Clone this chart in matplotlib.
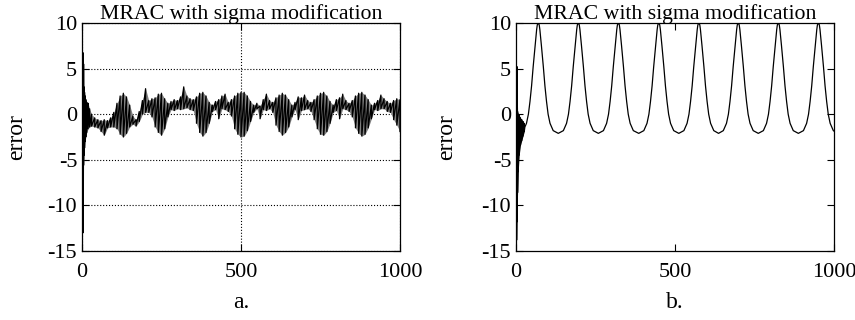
import numpy as np
import matplotlib
matplotlib.use("Agg")
from matplotlib import pyplot as plt

plt.rcParams['font.family'] = ['Liberation Serif', 'DejaVu Serif']
plt.rcParams['axes.unicode_minus'] = False
plt.rcParams['font.size'] = 16

# ---- panel a: error with sigma modification (peak / trough envelope of the fast oscillation)
t_a = [3, 4, 5, 6, 8, 10, 12, 15, 19, 24] + list(range(30, 1001, 10))
upper_a = [6.7, 6.7, 5.5, 3.0, 2.4, 2.0, 1.6, 1.3, 1.2, 0.6,
           0.0, -0.4, -0.6, -0.7, -0.6, -0.7, -0.4, 0.2, 1.2, 2.0,
           2.3, 1.9, 1.0, -0.2, -0.6, 0.3, 1.5, 2.8, 1.5, 1.7,
           1.8, 2.2, 2.3, 1.7, 1.2, 1.4, 1.6, 1.5, 1.9, 3.0,
           2.0, 1.7, 1.6, 1.9, 2.3, 2.4, 2.0, 1.3, 1.0, 1.4,
           1.6, 2.0, 2.2, 1.3, 1.6, 2.0, 2.3, 2.4, 2.4, 2.0,
           1.4, 1.0, 1.2, 0.9, 1.6, 2.2, 1.5, 1.3, 1.8, 2.1,
           2.3, 2.1, 1.6, 1.0, 1.3, 1.9, 1.8, 2.1, 1.5, 1.3,
           1.6, 2.0, 2.3, 2.4, 2.0, 1.4, 1.0, 1.6, 1.8, 2.2,
           1.5, 1.2, 1.5, 2.0, 2.3, 2.4, 2.1, 1.6, 1.0, 1.2,
           1.5, 2.1, 1.7, 1.4, 1.2, 1.5, 1.7, 1.6]
lower_a = [-13.0, -12.0, -5.6, -4.5, -3.7, -3.0, -2.5, -2.0, -1.6, -1.4,
           -1.3, -1.4, -1.5, -1.9, -2.3, -1.5, -1.4, -1.4, -1.6, -2.2,
           -2.5, -2.1, -1.4, -1.1, -1.3, -0.8, 0.0, 0.2, 0.2, -0.3,
           -1.4, -2.0, -2.3, -1.6, -0.3, 0.5, 0.4, 0.6, 0.5, 0.6,
           0.7, 0.5, 0.4, -1.0, -2.0, -2.4, -2.0, -1.0, 0.3, 0.5,
           -0.5, 0.6, 0.5, 0.3, -0.2, -1.6, -2.2, -2.5, -2.4, -1.8,
           -0.8, 0.2, 0.6, -0.5, 0.5, 0.4, 0.6, 0.2, -1.2, -1.9,
           -2.3, -2.0, -1.4, -0.3, 0.5, -0.6, 0.4, 0.5, 0.6, 0.3,
           -0.6, -1.6, -2.2, -2.3, -1.9, -1.0, 0.2, 0.4, -0.5, 0.6,
           0.5, 0.3, -0.3, -1.5, -2.1, -2.4, -2.2, -1.5, -0.5, 0.5,
           0.4, 0.6, 0.6, 0.3, 0.2, -0.6, -1.2, -1.9]

# ---- panel b: start-up transient envelope, then the slow periodic error
t_b0 = [2, 3, 5, 7, 10, 14, 18, 22, 26]
upper_b0 = [5.2, 5.2, 0.3, 0.0, -0.1, -0.4, -0.6, -0.8, -1.0]
lower_b0 = [-13.8, -11.8, -8.6, -6.3, -4.5, -3.4, -2.9, -2.4, -1.9]

t_b = [28, 33, 39, 44, 49, 54, 60, 65, 67, 70, 73, 75, 80, 86, 91, 96, 101, 107, 117, 133,
       149, 159, 165, 170, 175, 180, 186, 191, 193, 196, 199, 201, 206, 212, 217, 222, 227, 233, 243, 259,
       275, 285, 291, 296, 301, 306, 312, 317, 319, 322, 325, 327, 332, 338, 343, 348, 353, 359, 369, 386,
       402, 412, 418, 423, 428, 433, 439, 444, 446, 449, 452, 454, 459, 465, 470, 475, 480, 486, 496, 512,
       528, 538, 544, 549, 554, 559, 565, 570, 572, 575, 578, 580, 585, 591, 596, 601, 606, 612, 622, 637,
       652, 662, 668, 673, 678, 683, 689, 694, 696, 699, 702, 704, 709, 715, 720, 725, 730, 736, 746, 762,
       778, 788, 794, 799, 804, 809, 815, 820, 822, 825, 828, 830, 835, 841, 846, 851, 856, 862, 872, 888,
       904, 914, 920, 925, 930, 935, 941, 946, 948, 951, 954, 956, 961, 967, 972, 977, 982, 988, 998, 1000]
e_b = [-1.4, -1.0, 0.0, 1.4, 3.1, 5.2, 7.5, 9.3, 9.8, 10, 9.8, 9.3, 7.5, 5.2, 3.1, 1.4, 0.0, -1.0, -1.8, -2.1,
       -1.8, -1.0, 0.0, 1.4, 3.1, 5.2, 7.5, 9.3, 9.8, 10, 9.8, 9.3, 7.5, 5.2, 3.1, 1.4, 0.0, -1.0, -1.8, -2.1,
       -1.8, -1.0, 0.0, 1.4, 3.1, 5.2, 7.5, 9.3, 9.8, 10, 9.8, 9.3, 7.5, 5.2, 3.1, 1.4, 0.0, -1.0, -1.8, -2.1,
       -1.8, -1.0, 0.0, 1.4, 3.1, 5.2, 7.5, 9.3, 9.8, 10, 9.8, 9.3, 7.5, 5.2, 3.1, 1.4, 0.0, -1.0, -1.8, -2.1,
       -1.8, -1.0, 0.0, 1.4, 3.1, 5.2, 7.5, 9.3, 9.8, 10, 9.8, 9.3, 7.5, 5.2, 3.1, 1.4, 0.0, -1.0, -1.8, -2.1,
       -1.8, -1.0, 0.0, 1.4, 3.1, 5.2, 7.5, 9.3, 9.8, 10, 9.8, 9.3, 7.5, 5.2, 3.1, 1.4, 0.0, -1.0, -1.8, -2.1,
       -1.8, -1.0, 0.0, 1.4, 3.1, 5.2, 7.5, 9.3, 9.8, 10, 9.8, 9.3, 7.5, 5.2, 3.1, 1.4, 0.0, -1.0, -1.8, -2.1,
       -1.8, -1.0, 0.0, 1.4, 3.1, 5.2, 7.5, 9.3, 9.8, 10, 9.8, 9.3, 7.5, 5.2, 3.1, 1.4, 0.0, -1.0, -1.8, -1.85]

x_ticks = [0, 500, 1000]
y_ticks = [-15, -10, -5, 0, 5, 10]
title = "MRAC with sigma modification"


def zigzag(t, hi, lo):
    # one stroke per sample: peak then trough
    return np.repeat(t, 2), np.column_stack([hi, lo]).ravel()


fig = plt.figure(figsize=(8.55, 3.2), dpi=100)
ax1 = fig.add_axes([0.0959, 0.2156, 0.3719, 0.7125])
ax2 = fig.add_axes([0.6035, 0.2156, 0.3719, 0.7125])

# fast oscillation: grey band between the envelopes plus the strokes on top
ax1.fill_between(t_a, lower_a, upper_a, color='0.5', lw=0, zorder=2)
xa, ya = zigzag(t_a, upper_a, lower_a)
ax1.plot(xa, ya, color='black', lw=0.9, zorder=3)

xb0, yb0 = zigzag(t_b0, upper_b0, lower_b0)
ax2.fill_between(t_b0, lower_b0, upper_b0, color='black', lw=0)
ax2.plot(np.concatenate([xb0, t_b]), np.concatenate([yb0, e_b]), color='black', lw=0.9)

for ax, lab, lx in [(ax1, "a.", -0.173), (ax2, "b.", -0.186)]:
    ax.set_xlim(0, 1000)
    ax.set_ylim(-15, 10)
    ax.set_xticks(x_ticks)
    ax.set_yticks(y_ticks)
    ax.tick_params(direction='in', top=True, right=True, length=5, width=0.8,
                   labelsize=16)
    ax.tick_params(axis='x', pad=8.5)
    ax.tick_params(axis='y', pad=3.5)
    ax.set_title(title, fontsize=15.7, pad=3)
    ax.set_ylabel("error", fontsize=17)
    ax.yaxis.set_label_coords(lx, 0.5)
    ax.set_xlabel(lab, fontsize=17, labelpad=7.5)
    for s in ax.spines.values():
        s.set_linewidth(0.9)
        s.set_zorder(4)

ax1.grid(True, linestyle=':', color='black', linewidth=0.8)

fig.savefig("out.png", dpi=100)
